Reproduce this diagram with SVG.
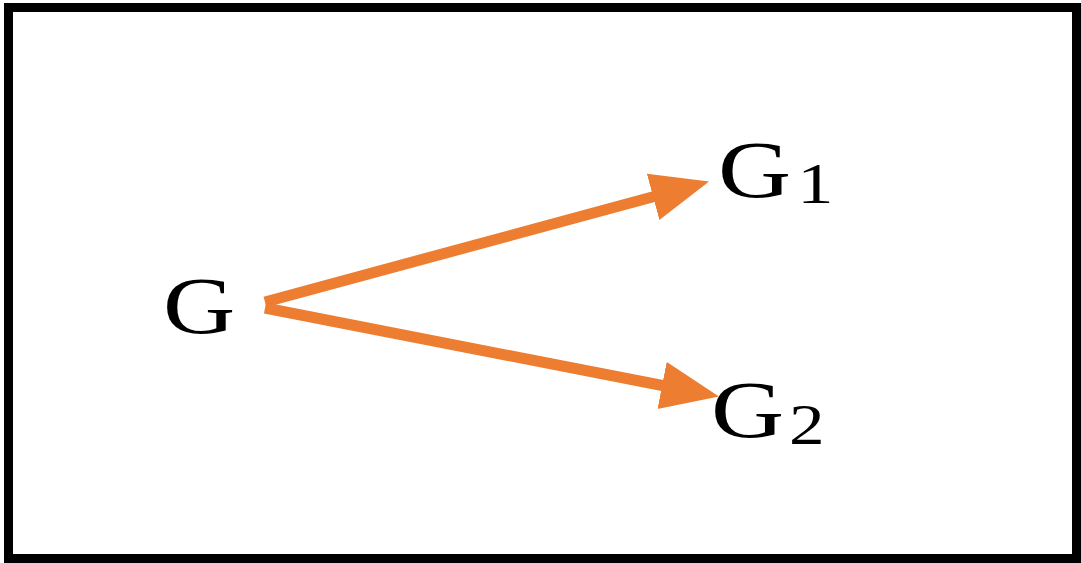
<svg xmlns="http://www.w3.org/2000/svg" width="1081" height="563" viewBox="0 0 1081 563">
  <style>
    .frame { fill: #ffffff; stroke: #000000; stroke-width: 9; }
    .lbl { font-family: "Liberation Serif", "Times New Roman", serif; fill: #000000; }
    .conn { stroke: #ED7D31; stroke-width: 11; fill: none; }
  </style>
  <defs>
    <marker id="head" markerUnits="userSpaceOnUse" markerWidth="62" markerHeight="50" refX="3" refY="24" orient="auto">
      <path d="M0,0 L58,24 L0,48 z" fill="#ED7D31"/>
    </marker>
  </defs>
  <rect class="frame" x="8.5" y="7.5" width="1068" height="551"/>
  <g id="connectors">
    <line class="conn" x1="265" y1="302" x2="656" y2="196" marker-end="url(#head)"/>
    <line class="conn" x1="265" y1="308" x2="665" y2="386" marker-end="url(#head)"/>
  </g>
  <g id="node-G">
    <text class="lbl" transform="translate(163,333) scale(1.25,1)" font-size="80">G</text>
  </g>
  <g id="node-G1">
    <text class="lbl" transform="translate(718,197) scale(1.25,1)" font-size="81">G<tspan font-size="58" dx="5" dy="6">1</tspan></text>
  </g>
  <g id="node-G2">
    <text class="lbl" transform="translate(711,437) scale(1.25,1)" font-size="81">G<tspan font-size="57" dx="4" dy="7">2</tspan></text>
  </g>
</svg>
